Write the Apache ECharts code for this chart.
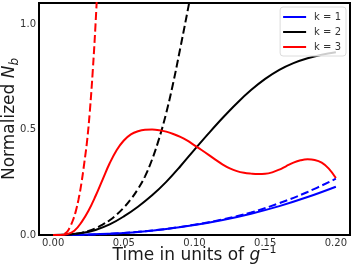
<!DOCTYPE html>
<html>
<head>
<meta charset="utf-8">
<script src="https://cdn.jsdelivr.net/npm/echarts@6/dist/echarts.min.js"></script>
<style>
html,body{margin:0;padding:0;background:#fff;}
#chart{width:354px;height:268px;}
</style>
</head>
<body>
<div id="chart"></div>
<script>
// ---- data ----
const xTicks = [0, 0.05, 0.10, 0.15, 0.20];
const yTicks = [0, 0.5, 1.0];
const legendNames = ['k = 1', 'k = 2', 'k = 3'];

// k = 1 (blue)
const k1Time   = [0, 0.02, 0.04, 0.06, 0.08, 0.10, 0.12, 0.14, 0.16, 0.18, 0.20];
const k1Exact  = [0, 0.001, 0.006, 0.014, 0.028, 0.047, 0.071, 0.101, 0.137, 0.180, 0.229];
const k1Approx = [0, 0.001, 0.006, 0.015, 0.029, 0.049, 0.074, 0.107, 0.151, 0.204, 0.267];

// k = 2 (black)
const k2Time  = [0, 0.01, 0.02, 0.03, 0.04, 0.05, 0.06, 0.07, 0.08, 0.09, 0.10,
                 0.11, 0.12, 0.13, 0.14, 0.15, 0.16, 0.17, 0.18, 0.19, 0.20];
const k2Exact = [0, 0.002, 0.009, 0.024, 0.05, 0.088, 0.134, 0.188, 0.252, 0.326, 0.405,
                 0.482, 0.556, 0.625, 0.687, 0.74, 0.783, 0.815, 0.838, 0.855, 0.867];
const k2ApproxTime = [0, 0.005, 0.01, 0.015, 0.02, 0.025, 0.03, 0.035, 0.04, 0.045, 0.05,
                      0.055, 0.06, 0.065, 0.07, 0.075, 0.08, 0.085, 0.09, 0.095, 0.10];
const k2Approx     = [0, 0, 0.002, 0.005, 0.01, 0.019, 0.032, 0.049, 0.07, 0.097, 0.13,
                      0.17, 0.218, 0.278, 0.358, 0.458, 0.578, 0.723, 0.888, 1.058, 1.233];

// k = 3 (red)
const k3Time  = [0, 0.005, 0.01, 0.015, 0.02, 0.025, 0.03, 0.035, 0.04, 0.045,
                 0.05, 0.055, 0.06, 0.065, 0.07, 0.075, 0.08, 0.085, 0.09, 0.095,
                 0.10, 0.105, 0.11, 0.115, 0.12, 0.125, 0.13, 0.135, 0.14, 0.145,
                 0.15, 0.155, 0.16, 0.165, 0.17, 0.175, 0.18, 0.185, 0.19, 0.195, 0.20];
const k3Exact = [0, 0, 0.004, 0.02, 0.06, 0.115, 0.185, 0.263, 0.34, 0.403,
                 0.448, 0.477, 0.492, 0.499, 0.50, 0.497, 0.49, 0.479, 0.465, 0.447,
                 0.425, 0.403, 0.38, 0.356, 0.334, 0.316, 0.303, 0.295, 0.291, 0.289,
                 0.29, 0.297, 0.31, 0.327, 0.343, 0.354, 0.359, 0.356, 0.343, 0.315, 0.27];
const k3ApproxTime = [0, 0.002, 0.004, 0.006, 0.008, 0.01, 0.012, 0.014, 0.016, 0.018,
                      0.02, 0.022, 0.024, 0.026, 0.028, 0.03, 0.032];
const k3Approx     = [0, 0, 0, 0.001, 0.005, 0.016, 0.039, 0.07, 0.112, 0.17,
                      0.245, 0.34, 0.445, 0.59, 0.775, 1.0, 1.27];

const pairs = (t, v) => t.map((x, i) => [x, v[i]]);
const FONT = 'DejaVu Sans';

const chart = echarts.init(document.getElementById('chart'), null, {renderer: 'canvas'});

function lineSeries(name, t, v, color, dashed) {
  return {
    name: name,
    type: 'line',
    data: pairs(t, v),
    showSymbol: false,
    symbol: 'none',
    smooth: 0.4,
    clip: true,
    lineStyle: {color: color, width: 2, type: dashed ? [8, 3.5] : 'solid'},
    itemStyle: {color: color},
    emphasis: {disabled: true},
    silent: true
  };
}

chart.setOption({
  animation: false,
  backgroundColor: '#fff',
  grid: {
    left: 39, right: 4, top: 3, bottom: 33,
    outerBoundsMode: 'none',
    containLabel: false,
    show: true, borderColor: '#000', borderWidth: 2, backgroundColor: 'transparent'
  },
  legend: {
    data: legendNames,
    orient: 'vertical',
    right: 8, top: 7,
    padding: [4, 5, 3, 3],
    itemWidth: 23, itemHeight: 2, itemGap: 3,
    icon: 'rect',
    backgroundColor: 'rgba(255,255,255,0.8)',
    borderColor: '#dcdcdc', borderWidth: 1, borderRadius: 3,
    textStyle: {fontFamily: FONT, fontSize: 10, color: '#333', lineHeight: 12, padding: [0, 0, 0, 3]},
    selectedMode: false
  },
  xAxis: {
    type: 'value',
    min: -0.01, max: 0.21,
    name: 'Time in units of {i|g}{sup|−1}',
    nameLocation: 'middle',
    nameGap: 10,
    nameMoveOverlap: false,
    nameTextStyle: {
      fontFamily: FONT, fontSize: 17, color: '#1a1a1a', lineHeight: 22,
      rich: {
        i: {fontFamily: FONT, fontSize: 17, fontStyle: 'italic', color: '#1a1a1a', lineHeight: 22},
        sup: {fontFamily: FONT, fontSize: 11, color: '#1a1a1a', verticalAlign: 'top', lineHeight: 12}
      }
    },
    axisLine: {show: false},
    axisTick: {show: false},
    splitLine: {show: false},
    axisLabel: {
      customValues: xTicks,
      formatter: v => v.toFixed(2),
      fontFamily: FONT, fontSize: 10, color: '#333', margin: 3
    }
  },
  yAxis: {
    type: 'value',
    min: 0, max: 1.1,
    name: 'Normalized {i|N}{sub|b}',
    nameLocation: 'middle',
    nameRotate: 90,
    nameGap: 18,
    nameMoveOverlap: false,
    nameTextStyle: {
      fontFamily: FONT, fontSize: 17, color: '#1a1a1a', lineHeight: 22,
      rich: {
        i: {fontFamily: FONT, fontSize: 17, fontStyle: 'italic', color: '#1a1a1a', lineHeight: 22},
        sub: {fontFamily: FONT, fontSize: 12, fontStyle: 'italic', color: '#1a1a1a', verticalAlign: 'bottom', lineHeight: 12}
      }
    },
    axisLine: {show: false},
    axisTick: {show: false},
    splitLine: {show: false},
    axisLabel: {
      customValues: yTicks,
      formatter: v => v.toFixed(1),
      fontFamily: FONT, fontSize: 10, color: '#333', margin: 3
    }
  },
  series: [
    lineSeries('k = 1', k1Time, k1Exact, '#0000ff', false),
    lineSeries('k = 1 approx', k1Time, k1Approx, '#0000ff', true),
    lineSeries('k = 2', k2Time, k2Exact, '#000000', false),
    lineSeries('k = 2 approx', k2ApproxTime, k2Approx, '#000000', true),
    lineSeries('k = 3', k3Time, k3Exact, '#ff0000', false),
    lineSeries('k = 3 approx', k3ApproxTime, k3Approx, '#ff0000', true)
  ]
});
</script>
</body>
</html>
